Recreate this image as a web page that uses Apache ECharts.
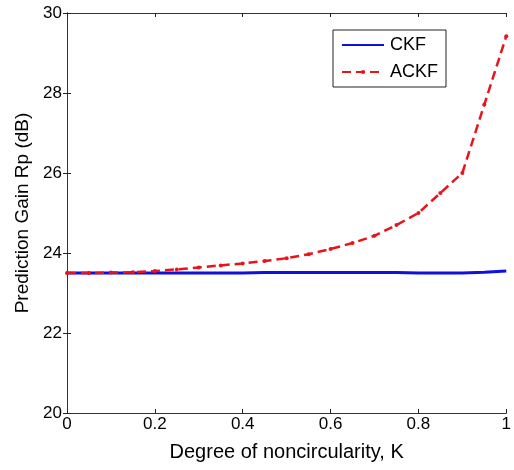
<!DOCTYPE html>
<html>
<head>
<meta charset="utf-8">
<script src="https://cdn.jsdelivr.net/npm/echarts@6/dist/echarts.min.js"></script>
<style>
  html, body { margin: 0; padding: 0; background: #fff; }
  #chart { width: 514px; height: 470px; }
</style>
</head>
<body>
<div id="chart"></div>
<script>
// degree of noncircularity K
const kValues = [0, 0.05, 0.1, 0.15, 0.2, 0.25, 0.3, 0.35, 0.4, 0.45, 0.5,
  0.55, 0.6, 0.65, 0.7, 0.75, 0.8, 0.85, 0.9, 0.95, 1.0];
// prediction gain (dB)
const ckf = [23.5, 23.5, 23.5, 23.5, 23.5, 23.5, 23.5, 23.5, 23.5, 23.51, 23.51,
  23.51, 23.51, 23.51, 23.51, 23.51, 23.5, 23.5, 23.5, 23.52, 23.55];
const ackf = [23.5, 23.5, 23.51, 23.52, 23.55, 23.59, 23.64, 23.69, 23.74, 23.8, 23.87,
  23.97, 24.1, 24.25, 24.43, 24.7, 25.0, 25.5, 26.0, 27.71, 29.42];

const font = "Arial, 'Liberation Sans', sans-serif";
const pair = (xs, ys) => xs.map((x, i) => [x, ys[i]]);

const chart = echarts.init(document.getElementById("chart"));

const tickStyle = { show: true, inside: true, length: 4, lineStyle: { color: "#222" } };
const lineStyle = { show: true, lineStyle: { color: "#333", width: 1 } };

chart.setOption({
  animation: false,
  grid: { left: 67, right: 6, top: 13, bottom: 57 },
  legend: {
    left: 333,
    top: 30,
    orient: "vertical",
    padding: [6, 8, 6, 8],
    itemGap: 9,
    itemWidth: 42,
    itemHeight: 5,
    borderColor: "#222",
    borderWidth: 1,
    textStyle: { fontFamily: font, fontSize: 18, color: "#000", padding: [0, 0, 0, 1] },
    data: [
      { name: "CKF", itemStyle: { opacity: 0 } },
      { name: "ACKF" },
    ],
  },
  xAxis: [
    {
      type: "value",
      min: 0,
      max: 1,
      interval: 0.2,
      name: "Degree of noncircularity, K",
      nameLocation: "middle",
      nameGap: 29,
      nameTextStyle: { fontFamily: font, fontSize: 20, color: "#000" },
      axisLine: lineStyle,
      axisTick: tickStyle,
      splitLine: { show: false },
      axisLabel: { fontFamily: font, fontSize: 17, color: "#000", margin: 3 },
    },
    {
      type: "value",
      position: "top",
      min: 0,
      max: 1,
      interval: 0.2,
      axisLine: lineStyle,
      axisTick: tickStyle,
      axisLabel: { show: false },
      splitLine: { show: false },
    },
  ],
  yAxis: [
    {
      type: "value",
      min: 20,
      max: 30,
      interval: 2,
      name: "Prediction Gain Rp (dB)",
      nameLocation: "middle",
      nameGap: 34,
      nameTextStyle: { fontFamily: font, fontSize: 19, color: "#000" },
      axisLine: lineStyle,
      axisTick: tickStyle,
      splitLine: { show: false },
      axisLabel: { fontFamily: font, fontSize: 17, color: "#000", margin: 5 },
    },
    {
      type: "value",
      position: "right",
      min: 20,
      max: 30,
      interval: 2,
      axisLine: lineStyle,
      axisTick: tickStyle,
      axisLabel: { show: false },
      splitLine: { show: false },
    },
  ],
  series: [
    {
      name: "CKF",
      type: "line",
      data: pair(kValues, ckf),
      showSymbol: false,
      symbol: "none",
      color: "#1010dd",
      lineStyle: { color: "#1010dd", width: 3 },
    },
    {
      name: "ACKF",
      type: "line",
      data: pair(kValues, ackf),
      symbol: "circle",
      symbolSize: 4,
      color: "#e8141c",
      itemStyle: { color: "#e8141c" },
      lineStyle: { color: "#e8141c", width: 2.5, type: [9, 5] },
    },
  ],
});
</script>
</body>
</html>
